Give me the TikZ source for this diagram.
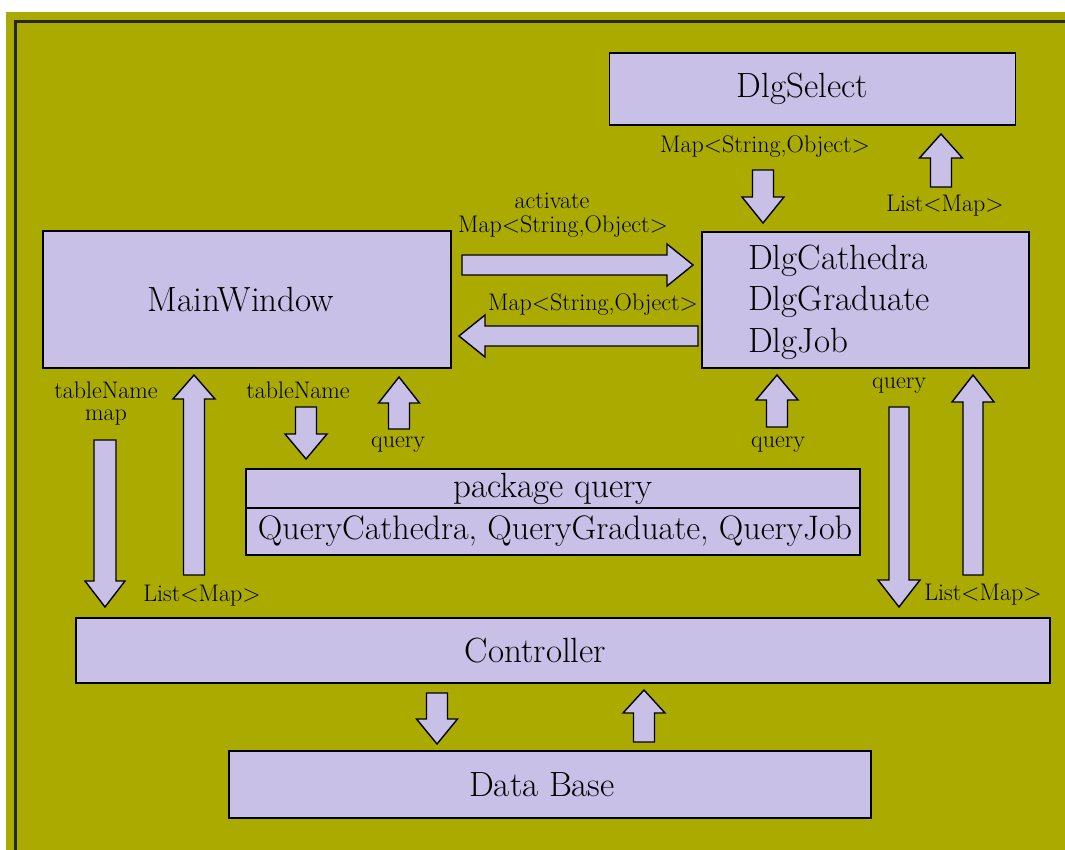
\documentclass[tikz,border=0pt]{standalone}
\usepackage{fontspec}
\definecolor{oliveBg}{RGB}{170,170,0}
\definecolor{lavender}{RGB}{200,192,230}

% vertical block arrow: #1 centre x, #2 tail y, #3 head base y, #4 tip y, #5 half shaft, #6 half head
\newcommand{\vblock}[6]{%
  \draw[blockarrow] ({#1-#5},#2) -- ({#1-#5},#3) -- ({#1-#6},#3) -- (#1,#4)
    -- ({#1+#6},#3) -- ({#1+#5},#3) -- ({#1+#5},#2) -- cycle;}
% horizontal block arrow: #1 centre y, #2 tail x, #3 head base x, #4 tip x, #5 half shaft, #6 half head
\newcommand{\hblock}[6]{%
  \draw[blockarrow] (#2,{#1-#5}) -- (#3,{#1-#5}) -- (#3,{#1-#6}) -- (#4,#1)
    -- (#3,{#1+#6}) -- (#3,{#1+#5}) -- (#2,{#1+#5}) -- cycle;}

\begin{document}
\begin{tikzpicture}[x=1pt,y=-1pt,
  box/.style={draw=black, fill=lavender, line width=1.6pt, inner sep=0pt, outer sep=0pt,
    font=\fontsize{35}{41.5}\selectfont},
  blockarrow/.style={draw=black, fill=lavender, line width=1.4pt, line join=miter},
  lbl/.style={inner sep=0pt, font=\fontsize{24}{26}\selectfont}]

\useasboundingbox (0,0) rectangle (1065,850);
\fill[white] (0,0) rectangle (1065,850);
\fill[oliveBg] (6,12) rectangle (1065,850);
\draw[line width=3pt, black!85] (15,850) -- (15,22) -- (1065,22);

% modules
\node[box, minimum width=406, minimum height=72]  (select) at (812.5,89)  {\hspace*{-20pt}DlgSelect};
\node[box, minimum width=408, minimum height=137] (main)   at (247,299.5) {\hspace*{-12pt}MainWindow};
\node[box, minimum width=327, minimum height=136] (dlg)    at (865.5,300) {};
\node[anchor=west, inner sep=0pt, align=left, font=\fontsize{35}{41.5}\selectfont]
  (dlgtext) at (748,302) {DlgCathedra\\DlgGraduate\\DlgJob};
\node[box, minimum width=614, minimum height=39] (pkg)     at (553,488.5) {package query};
\node[box, minimum width=614, minimum height=47, font=\fontsize{34}{40}\selectfont]
  (classes) at (553,531.5) {\hspace*{4pt}QueryCathedra, QueryGraduate, QueryJob};
\node[box, minimum width=974, minimum height=65] (ctrl)    at (563,650.5) {\hspace*{-55pt}Controller};
\node[box, minimum width=642, minimum height=67] (db)      at (550,784.5) {\hspace*{-16pt}Data Base};

% data flow arrows
\hblock{265}{462}{667}{693}{10}{21}        % MainWindow -> dialogs
\hblock{336}{698}{485}{459}{10}{21}        % dialogs -> MainWindow
\vblock{763}{170}{197}{223}{10.5}{21}      % DlgSelect -> dialogs
\vblock{941}{187}{158}{134}{10.5}{21.5}    % dialogs -> DlgSelect
\vblock{105}{440}{581}{607}{11}{20}        % MainWindow -> Controller
\vblock{194}{575}{399}{375}{10.5}{21}      % Controller -> MainWindow
\vblock{306}{407}{434}{459}{10.5}{21}      % MainWindow -> package query
\vblock{399}{429}{403}{377}{10.5}{20.5}    % package query -> MainWindow
\vblock{777}{427}{400}{375}{10.5}{21}      % package query -> dialogs
\vblock{899}{407}{580}{607}{10}{21}        % dialogs -> Controller
\vblock{973}{575}{402}{375}{10}{21}        % Controller -> dialogs
\vblock{437}{693}{719}{744}{10.5}{20.5}    % Controller -> Data Base
\vblock{644}{742}{713}{690}{10.5}{21}      % Data Base -> Controller

% labels
\node[lbl] (l1)  at (765,147) {Map<String,Object>};
\node[lbl] (l2)  at (945,206) {List<Map>};
\node[lbl] (l3)  at (552,201) {activate};
\node[lbl] (l4)  at (563,227) {Map<String,Object>};
\node[lbl] (l5)  at (593,305) {Map<String,Object>};
\node[lbl] (l6)  at (106,390) {tableName};
\node[lbl] (l7)  at (106,418) {map};
\node[lbl] (l8)  at (202,596) {List<Map>};
\node[lbl] (l9)  at (298,390) {tableName};
\node[lbl] (l10) at (398,445) {query};
\node[lbl] (l11) at (778,445) {query};
\node[lbl] (l12) at (899,386) {query};
\node[lbl] (l13) at (983,595) {List<Map>};
\end{tikzpicture}
\end{document}
